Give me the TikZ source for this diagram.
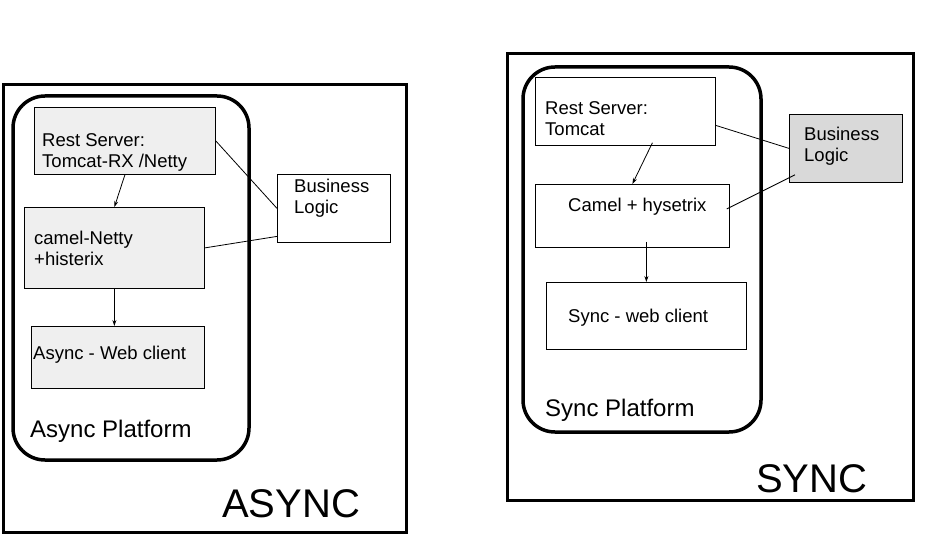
\documentclass[tikz,border=0pt]{standalone}
\usepackage{fontspec}
\setmainfont{Liberation Sans}
\usetikzlibrary{arrows.meta,calc}
\definecolor{lightfill}{HTML}{EFEFEF}
\definecolor{darkfill}{HTML}{D9D9D9}
\begin{document}
\begin{tikzpicture}[x=1pt,y=-1pt,
  outerbox/.style={draw,line width=3pt},
  platform/.style={draw,line width=3.5pt,rounded corners=32pt},
  card/.style={draw,line width=0.8pt,inner sep=0pt,anchor=north west},
  txt/.style={inner sep=0pt,anchor=west,align=left,font=\fontsize{18.5}{21}\selectfont},
  big/.style={inner sep=0pt,anchor=west,font=\fontsize{24}{28}\selectfont},
  huge/.style={inner sep=0pt,anchor=west,font=\fontsize{40}{46}\selectfont},
  link/.style={line width=0.8pt},
  flow/.style={line width=0.8pt,-{Stealth[length=6pt,width=4pt]}}]
\useasboundingbox (0,0) rectangle (952,545);
\fill[white] (0,0) rectangle (952,545);
% ---------- ASYNC ----------
\draw[outerbox] (3,85) rectangle (406,532);
\draw[platform] (13,96) rectangle (249,460);
\node[card,fill=lightfill,minimum width=181,minimum height=67] (rs1) at (34,107) {};
\node[txt] (rs1t) at (42,152) {Rest Server:\\Tomcat-RX /Netty};
\node[card,fill=lightfill,minimum width=180,minimum height=81] (cn1) at (24,207) {};
\node[txt] (cn1t) at (34,248) {camel-Netty\\+histerix};
\node[card,fill=lightfill,minimum width=173,minimum height=62] (aw1) at (31,326) {};
\node[txt] (aw1t) at (33,355) {Async - Web client};
\node[card,fill=white,minimum width=113,minimum height=68] (bl1) at (277,174) {};
\node[txt] (bl1t) at (294,198) {Business\\Logic};
\node[big] (ap1) at (30,431) {Async Platform};
\node[huge] (as1) at (222,504) {ASYNC};
\draw[link] (rs1.east) -- (bl1.west);
\draw[link] (cn1.east) -- ([yshift=-28pt]bl1.west);
\draw[flow] (rs1.south) -- (cn1.north);
\draw[flow] (cn1.south) -- (cn1.south |- aw1.north);
% ---------- SYNC ----------
\draw[outerbox] (507,54) rectangle (913,500);
\draw[platform] (523,67) rectangle (761,432);
\node[card,fill=white,minimum width=180,minimum height=68] (rs2) at (535,77) {};
\node[txt] (rs2t) at (545,119) {Rest Server:\\Tomcat};
\node[card,fill=white,minimum width=194,minimum height=63] (cm2) at (535,184) {};
\node[txt] (cm2t) at (568,207) {Camel + hysetrix};
\node[card,fill=white,minimum width=200,minimum height=67] (sw2) at (546,282) {};
\node[txt] (sw2t) at (568,318) {Sync - web client};
\node[card,fill=darkfill,minimum width=113,minimum height=68] (bl2) at (789,114) {};
\node[txt] (bl2t) at (804,146) {Business\\Logic};
\node[big] (sp2) at (545,410) {Sync Platform};
\node[huge] (sy2) at (756,479) {SYNC};
\draw[link] ([yshift=-14pt]rs2.east) -- (bl2.west);
\draw[link] ([xshift=-3pt,yshift=7pt]cm2.east) -- ([xshift=6pt,yshift=8pt]bl2.south west);
\draw[flow] ([xshift=27pt,yshift=3pt]rs2.south) -- (cm2.north);
\draw[flow] ([yshift=6pt]cm2.south -| sw2.north) -- (sw2.north);
\end{tikzpicture}
\end{document}
